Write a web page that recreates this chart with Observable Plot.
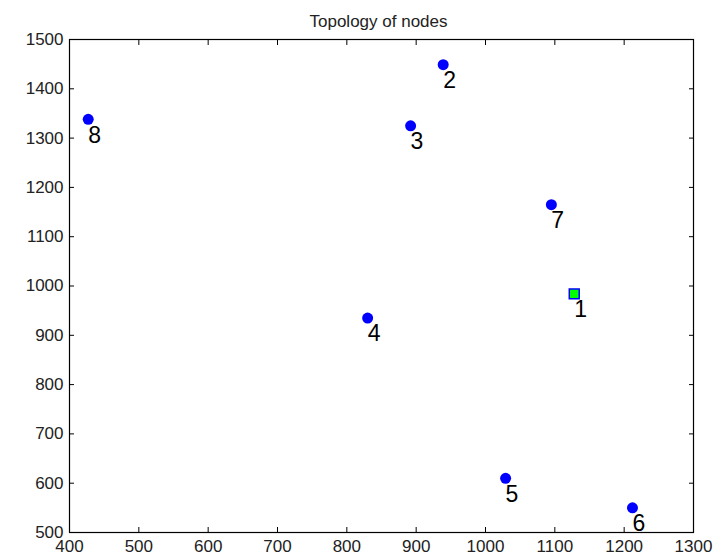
<!DOCTYPE html>
<html>
<head>
<meta charset="utf-8">
<script src="https://cdn.jsdelivr.net/npm/d3@7"></script>
<script src="https://cdn.jsdelivr.net/npm/@observablehq/plot@0.6"></script>
<style>
  html, body { margin: 0; padding: 0; background: #fff; }
  svg { display: block; }
</style>
</head>
<body>
<div id="chart"></div>
<script>
const titleText = "Topology of nodes";
const nodeIds = ["1", "2", "3", "4", "5", "6", "7", "8"];
const nodeX = [1128, 939, 892, 830, 1029, 1212, 1095, 427];
const nodeY = [984, 1449, 1325, 935, 610, 550, 1165, 1338];
const sinkId = "1";
const xTicks = [400, 500, 600, 700, 800, 900, 1000, 1100, 1200, 1300];
const yTicks = [500, 600, 700, 800, 900, 1000, 1100, 1200, 1300, 1400, 1500];

const nodes = nodeIds.map((id, i) => ({id, x: nodeX[i], y: nodeY[i], sink: id === sinkId}));
const sensors = nodes.filter(d => !d.sink);
const sinks = nodes.filter(d => d.sink);

const font = "Liberation Sans, Arial, sans-serif";

const chart = Plot.plot({
  width: 722,
  height: 557,
  marginLeft: 69,
  marginRight: 29,
  marginTop: 39,
  marginBottom: 25,
  style: {background: "#fff", fontFamily: font, color: "#000"},
  x: {domain: [400, 1300], axis: null},
  y: {domain: [500, 1500], axis: null},
  marks: [
    Plot.frame({stroke: "#000", strokeWidth: 1.2}),
    // labels
    Plot.axisX(xTicks, {anchor: "bottom", tickSize: 0, tickPadding: 7, fontSize: 17, label: null, fill: "#222", tickFormat: d => String(d)}),
    Plot.axisY(yTicks, {anchor: "left", tickSize: 0, tickPadding: 6, fontSize: 17, label: null, fill: "#222", tickFormat: d => String(d)}),
    // inward tick marks on all four sides
    Plot.axisX(xTicks, {anchor: "bottom", tickSize: -5, text: null, label: null}),
    Plot.axisX(xTicks, {anchor: "top", tickSize: -5, text: null, label: null}),
    Plot.axisY(yTicks, {anchor: "left", tickSize: -5, text: null, label: null}),
    Plot.axisY(yTicks, {anchor: "right", tickSize: -5, text: null, label: null}),
    // title
    Plot.text([titleText], {frameAnchor: "top", dx: -3, dy: -25, fontSize: 17, fill: "#222"}),
    // nodes
    Plot.dot(sensors, {x: "x", y: "y", r: 5.5, fill: "#0000ff", stroke: "none"}),
    Plot.dot(sinks, {x: "x", y: "y", r: 5.6, symbol: "square", fill: "#00ff00", stroke: "#0000ff", strokeWidth: 1.5}),
    Plot.text(nodes, {x: "x", y: "y", text: "id", textAnchor: "start", dx: 0, dy: 16, fontSize: 23, fill: "#000"})
  ]
});
document.getElementById("chart").appendChild(chart);
</script>
</body>
</html>
